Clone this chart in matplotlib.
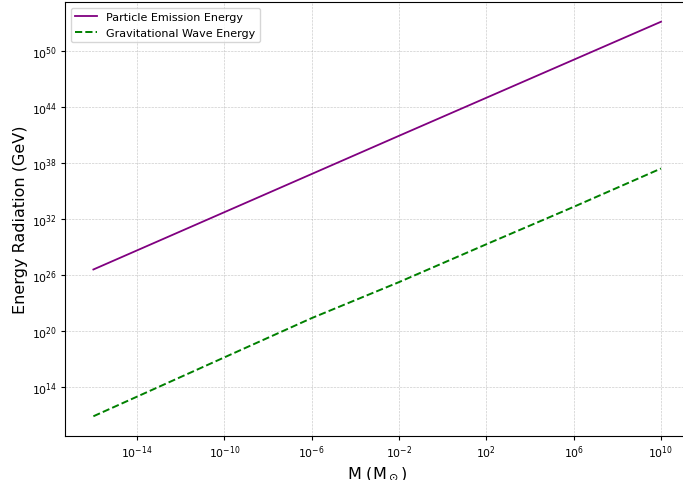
import numpy as np
import matplotlib
matplotlib.use("Agg")
import matplotlib.pyplot as plt

# log10 of mass (solar masses) and log10 energy (GeV)
particle_logm = [-16, -2, 10]
particle_loge = [26.6, 40.9, 53.1]

gw_logm = [-16, -14, -10, -6, -2, 2, 6, 10]
gw_loge = [10.9, 13.0, 17.2, 21.4, 25.25, 29.3, 33.3, 37.4]

fig = plt.figure(figsize=(6.83, 4.81), dpi=100)
ax = fig.add_axes([65 / 683, 44 / 481, 624.4 / 683, 434 / 481])

ax.plot(10.0 ** np.array(particle_logm), 10.0 ** np.array(particle_loge),
        color='purple', linewidth=1.3, label='Particle Emission Energy')
ax.plot(10.0 ** np.array(gw_logm), 10.0 ** np.array(gw_loge),
        color='green', linestyle='--', linewidth=1.4, label='Gravitational Wave Energy')

ax.set_xscale('log')
ax.set_yscale('log')
ax.set_xlabel(r'M (M$_\odot$)', fontsize=11.5, labelpad=2.5)
ax.set_ylabel('Energy Radiation (GeV)', fontsize=11.5, labelpad=3)
ax.tick_params(labelsize=7.8, length=2.8, pad=2.8)
ax.grid(True, which='major', linestyle='--', linewidth=0.45, alpha=0.7)
ax.legend(loc='upper left', fontsize=8)

fig.savefig('out.png', dpi=100)
